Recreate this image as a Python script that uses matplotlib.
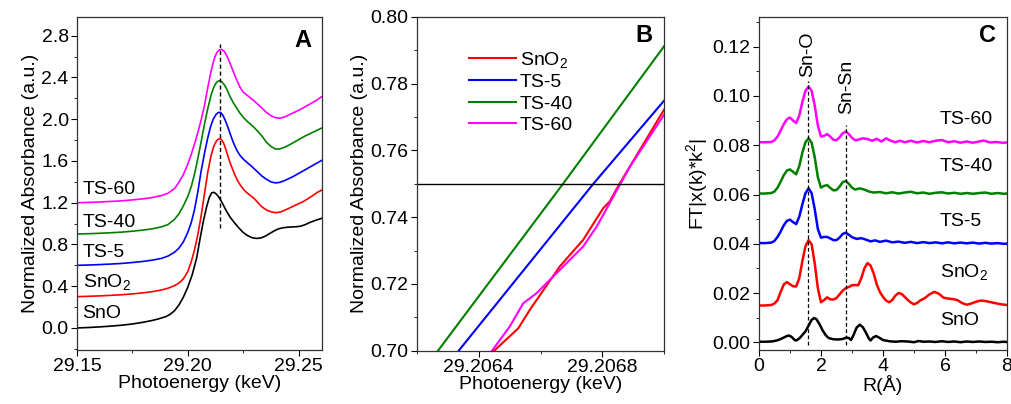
import matplotlib
matplotlib.use('Agg')
import matplotlib.pyplot as plt
from matplotlib.ticker import MultipleLocator, FormatStrFormatter

plt.rcParams['font.family'] = ['Liberation Sans', 'DejaVu Sans']
plt.rcParams['mathtext.fontset'] = 'custom'
plt.rcParams['mathtext.rm'] = 'Liberation Sans'
plt.rcParams['mathtext.default'] = 'regular'

# ---- panel A : XANES (keV, normalized absorbance, stacked)
sno_e = [29.150, 29.155, 29.160, 29.165, 29.170, 29.175, 29.180, 29.184, 29.187, 29.190,
         29.192, 29.194, 29.196, 29.198, 29.200, 29.202, 29.204, 29.2055, 29.207, 29.2085,
         29.2097, 29.2108, 29.2118, 29.2128, 29.2140, 29.2155, 29.2172, 29.2190, 29.2210, 29.2230,
         29.2250, 29.2270, 29.2290, 29.2310, 29.2330, 29.2350, 29.2370, 29.2390, 29.2410, 29.2430,
         29.2450, 29.2470, 29.2490, 29.2510, 29.2530, 29.2550, 29.2575, 29.2604]
sno_a = [0.000, 0.004, 0.010, 0.017, 0.026, 0.038, 0.055, 0.072, 0.088, 0.108,
         0.130, 0.165, 0.220, 0.295, 0.390, 0.510, 0.670, 0.850, 1.020, 1.160,
         1.250, 1.295, 1.300, 1.285, 1.255, 1.200, 1.130, 1.065, 1.010, 0.960,
         0.915, 0.885, 0.865, 0.858, 0.862, 0.880, 0.905, 0.930, 0.950, 0.960,
         0.965, 0.968, 0.970, 0.975, 0.990, 1.010, 1.030, 1.050]

sno2_e = [29.150, 29.155, 29.160, 29.165, 29.170, 29.175, 29.180, 29.184, 29.188, 29.191,
          29.194, 29.196, 29.198, 29.200, 29.2015, 29.203, 29.2045, 29.206, 29.2075, 29.209,
          29.2105, 29.2118, 29.2130, 29.2142, 29.2152, 29.2162, 29.2172, 29.2182, 29.2195, 29.2210,
          29.2225, 29.2240, 29.2255, 29.2270, 29.2285, 29.2300, 29.2315, 29.2330, 29.2345, 29.2360,
          29.2380, 29.2400, 29.2420, 29.2440, 29.2460, 29.2480, 29.2500, 29.2520, 29.2540, 29.2565,
          29.2585, 29.2604]
sno2_a = [0.300, 0.303, 0.307, 0.312, 0.318, 0.326, 0.337, 0.348, 0.363, 0.380,
          0.405, 0.430, 0.470, 0.540, 0.630, 0.745, 0.890, 1.070, 1.280, 1.490,
          1.650, 1.745, 1.795, 1.815, 1.805, 1.770, 1.710, 1.640, 1.560, 1.480,
          1.410, 1.360, 1.320, 1.290, 1.265, 1.240, 1.205, 1.170, 1.145, 1.125,
          1.110, 1.105, 1.112, 1.130, 1.150, 1.170, 1.190, 1.210, 1.235, 1.270,
          1.300, 1.320]

ts5_e = [29.150, 29.155, 29.160, 29.165, 29.170, 29.175, 29.180, 29.184, 29.188, 29.191,
         29.194, 29.196, 29.198, 29.200, 29.2015, 29.203, 29.2045, 29.206, 29.2075, 29.209,
         29.2103, 29.2115, 29.2127, 29.2138, 29.2148, 29.2158, 29.2168, 29.2180, 29.2193, 29.2207,
         29.2222, 29.2237, 29.2252, 29.2268, 29.2285, 29.2300, 29.2318, 29.2335, 29.2355, 29.2375,
         29.2395, 29.2415, 29.2435, 29.2455, 29.2475, 29.2500, 29.2525, 29.2550, 29.2575, 29.2604]
ts5_a = [0.600, 0.603, 0.607, 0.612, 0.618, 0.627, 0.638, 0.650, 0.666, 0.688,
         0.725, 0.765, 0.825, 0.915, 1.005, 1.130, 1.300, 1.500, 1.670, 1.820,
         1.930, 2.000, 2.045, 2.065, 2.065, 2.040, 1.995, 1.930, 1.850, 1.770,
         1.700, 1.650, 1.615, 1.585, 1.555, 1.525, 1.490, 1.455, 1.425, 1.400,
         1.390, 1.395, 1.410, 1.430, 1.450, 1.480, 1.510, 1.540, 1.570, 1.605]

ts40_e = [29.150, 29.155, 29.160, 29.165, 29.170, 29.175, 29.180, 29.184, 29.188, 29.191,
          29.194, 29.196, 29.198, 29.200, 29.2015, 29.203, 29.2045, 29.206, 29.2075, 29.209,
          29.2105, 29.2118, 29.2130, 29.2142, 29.2153, 29.2165, 29.2178, 29.2190, 29.2205, 29.2220,
          29.2235, 29.2250, 29.2268, 29.2285, 29.2300, 29.2318, 29.2338, 29.2355, 29.2375, 29.2395,
          29.2415, 29.2435, 29.2455, 29.2480, 29.2505, 29.2530, 29.2555, 29.2580, 29.2604]
ts40_a = [0.900, 0.903, 0.907, 0.912, 0.918, 0.927, 0.938, 0.950, 0.968, 0.990,
          1.040, 1.095, 1.170, 1.260, 1.350, 1.470, 1.620, 1.780, 1.950, 2.100,
          2.230, 2.310, 2.355, 2.370, 2.360, 2.330, 2.280, 2.220, 2.160, 2.110,
          2.060, 2.020, 1.980, 1.950, 1.920, 1.880, 1.830, 1.780, 1.740, 1.715,
          1.715, 1.730, 1.750, 1.780, 1.810, 1.840, 1.865, 1.890, 1.915]

ts60_e = [29.150, 29.155, 29.160, 29.165, 29.170, 29.175, 29.180, 29.184, 29.188, 29.191,
          29.194, 29.196, 29.198, 29.200, 29.2015, 29.203, 29.2045, 29.206, 29.2075, 29.209,
          29.2105, 29.2118, 29.2130, 29.2142, 29.2153, 29.2165, 29.2178, 29.2190, 29.2205, 29.2220,
          29.2235, 29.2250, 29.2268, 29.2285, 29.2300, 29.2318, 29.2338, 29.2355, 29.2375, 29.2395,
          29.2415, 29.2435, 29.2455, 29.2480, 29.2505, 29.2530, 29.2555, 29.2580, 29.2604]
ts60_a = [1.200, 1.203, 1.207, 1.212, 1.218, 1.227, 1.238, 1.250, 1.268, 1.290,
          1.335, 1.395, 1.470, 1.570, 1.660, 1.760, 1.870, 1.990, 2.130, 2.300,
          2.460, 2.570, 2.635, 2.665, 2.670, 2.650, 2.600, 2.540, 2.460, 2.380,
          2.310, 2.260, 2.230, 2.200, 2.175, 2.140, 2.100, 2.065, 2.035, 2.015,
          2.010, 2.020, 2.040, 2.065, 2.090, 2.120, 2.150, 2.180, 2.215]

labels_a = ['SnO', 'SnO$_2$', 'TS-5', 'TS-40', 'TS-60']
label_a_y = [0.14, 0.44, 0.72, 1.01, 1.33]

# ---- panel B : zoom on the edge at 0.75
sno2_be = [29.20645, 29.206528, 29.206565, 29.206662, 29.206738, 29.206803, 29.206824, 29.206857, 29.2070]
sno2_ba = [0.700, 0.7067, 0.7122, 0.7252, 0.7332, 0.7427, 0.7447, 0.7502, 0.7722]
ts5_be = [29.206335, 29.206771, 29.2070]
ts5_ba = [0.700, 0.750, 0.7749]
ts40_be = [29.206268, 29.206672, 29.2070]
ts40_ba = [0.700, 0.7499, 0.7912]
ts60_be = [29.206443, 29.2065, 29.206544, 29.206587, 29.206673, 29.206738, 29.206782, 29.20683,
           29.206857, 29.20689, 29.2070]
ts60_ba = [0.700, 0.7072, 0.7142, 0.7172, 0.7252, 0.7312, 0.7372, 0.7452, 0.7497, 0.7552, 0.7707]

# ---- panel C : FT of EXAFS
sno_r = [0.0, 0.2, 0.4, 0.5, 0.6, 0.7, 0.8, 0.9, 0.97, 1.05, 1.15, 1.2, 1.3, 1.4, 1.5, 1.6, 1.7,
         1.78, 1.85, 1.95, 2.05, 2.15, 2.25, 2.4, 2.55, 2.7, 2.82, 2.9, 2.97, 3.05, 3.15, 3.25,
         3.35, 3.45, 3.55, 3.6, 3.68, 3.78, 3.9, 4.0, 4.2, 4.4, 4.6, 4.8, 5.0, 5.15, 5.3, 5.5,
         5.7, 5.9, 6.1, 6.3, 6.5, 6.7, 6.9, 7.1, 7.3, 7.5, 7.7, 7.9, 8.0]
sno_ft = [0.0003, 0.0003, 0.0004, 0.0006, 0.0009, 0.0014, 0.0020, 0.0026, 0.0028, 0.0023, 0.0010,
          0.0008, 0.0016, 0.0030, 0.0045, 0.0068, 0.0092, 0.0099, 0.0095, 0.0075, 0.0050, 0.0030,
          0.0018, 0.0013, 0.0012, 0.0014, 0.0020, 0.0018, 0.0010, 0.0030, 0.0060, 0.0072, 0.0062,
          0.0040, 0.0015, 0.0008, 0.0020, 0.0026, 0.0018, 0.0010, 0.0005, 0.0003, 0.0005, 0.0004,
          0.0001, 0.0006, 0.0003, 0.0004, 0.0002, 0.0005, 0.0002, 0.0004, 0.0001, 0.0004, 0.0002,
          0.0004, 0.0002, 0.0003, 0.0001, 0.0003, 0.0002]

sno2_r = [0.0, 0.2, 0.4, 0.5, 0.6, 0.7, 0.8, 0.9, 1.0, 1.1, 1.2, 1.3, 1.4, 1.5, 1.6, 1.7, 1.8,
          1.9, 2.0, 2.1, 2.2, 2.3, 2.4, 2.5, 2.6, 2.7, 2.8, 2.9, 3.0, 3.1, 3.2, 3.3, 3.4, 3.5,
          3.6, 3.7, 3.8, 3.9, 4.0, 4.1, 4.2, 4.3, 4.4, 4.5, 4.6, 4.7, 4.8, 4.9, 5.0, 5.1, 5.2,
          5.35, 5.5, 5.65, 5.8, 5.95, 6.1, 6.25, 6.4, 6.55, 6.7, 6.85, 7.0, 7.15, 7.3, 7.45,
          7.6, 7.8, 8.0]
sno2_ft = [0.0150, 0.0150, 0.0152, 0.0158, 0.0172, 0.0205, 0.0235, 0.0245, 0.0236, 0.0228, 0.0227,
           0.0260, 0.0330, 0.0390, 0.0415, 0.0398, 0.0320, 0.0220, 0.0163, 0.0172, 0.0183, 0.0175,
           0.0174, 0.0180, 0.0195, 0.0210, 0.0220, 0.0225, 0.0232, 0.0233, 0.0232, 0.0260, 0.0300,
           0.0322, 0.0312, 0.0280, 0.0235, 0.0205, 0.0185, 0.0170, 0.0163, 0.0172, 0.0190, 0.0200,
           0.0197, 0.0185, 0.0172, 0.0162, 0.0155, 0.0160, 0.0170, 0.0180, 0.0195, 0.0205, 0.0198,
           0.0182, 0.0178, 0.0176, 0.0172, 0.0160, 0.0153, 0.0158, 0.0165, 0.0170, 0.0168, 0.0164,
           0.0160, 0.0155, 0.0152]

ts5_r = [0.0, 0.2, 0.4, 0.5, 0.6, 0.7, 0.8, 0.9, 1.0, 1.1, 1.2, 1.3, 1.4, 1.5, 1.6, 1.7, 1.8,
         1.9, 2.0, 2.1, 2.2, 2.3, 2.4, 2.5, 2.6, 2.7, 2.8, 2.9, 3.0, 3.15, 3.3, 3.45, 3.6, 3.75,
         3.9, 4.1, 4.3, 4.5, 4.7, 4.9, 5.1, 5.3, 5.5, 5.7, 5.9, 6.1, 6.3, 6.5, 6.7, 6.9, 7.1,
         7.3, 7.5, 7.7, 7.9, 8.0]
ts5_ft = [0.0403, 0.0403, 0.0405, 0.0412, 0.0428, 0.0450, 0.0475, 0.0493, 0.0498, 0.0488, 0.0480,
          0.0510, 0.0560, 0.0605, 0.0625, 0.0605, 0.0540, 0.0460, 0.0425, 0.0428, 0.0428, 0.0422,
          0.0415, 0.0415, 0.0425, 0.0440, 0.0445, 0.0437, 0.0427, 0.0420, 0.0423, 0.0417, 0.0410,
          0.0414, 0.0408, 0.0413, 0.0406, 0.0409, 0.0404, 0.0408, 0.0403, 0.0407, 0.0403, 0.0406,
          0.0402, 0.0406, 0.0402, 0.0405, 0.0402, 0.0405, 0.0401, 0.0404, 0.0401, 0.0403, 0.0400,
          0.0401]

ts40_r = [0.0, 0.2, 0.4, 0.5, 0.6, 0.7, 0.8, 0.9, 1.0, 1.1, 1.2, 1.3, 1.4, 1.5, 1.6, 1.7, 1.8,
          1.9, 2.0, 2.1, 2.2, 2.3, 2.4, 2.5, 2.6, 2.7, 2.8, 2.9, 3.0, 3.1, 3.25, 3.4, 3.55, 3.7,
          3.9, 4.1, 4.3, 4.5, 4.7, 4.9, 5.1, 5.3, 5.5, 5.7, 5.9, 6.1, 6.3, 6.5, 6.7, 6.9, 7.1,
          7.3, 7.5, 7.7, 7.9, 8.0]
ts40_ft = [0.0604, 0.0604, 0.0606, 0.0612, 0.0628, 0.0652, 0.0678, 0.0697, 0.0702, 0.0692, 0.0682,
           0.0715, 0.0770, 0.0812, 0.0828, 0.0810, 0.0750, 0.0670, 0.0628, 0.0635, 0.0638, 0.0627,
           0.0617, 0.0618, 0.0632, 0.0650, 0.0655, 0.0643, 0.0628, 0.0620, 0.0625, 0.0620, 0.0612,
           0.0608, 0.0610, 0.0605, 0.0609, 0.0604, 0.0608, 0.0611, 0.0605, 0.0608, 0.0603, 0.0607,
           0.0609, 0.0604, 0.0607, 0.0603, 0.0606, 0.0603, 0.0606, 0.0608, 0.0603, 0.0606, 0.0603,
           0.0604]

ts60_r = [0.0, 0.2, 0.4, 0.5, 0.6, 0.7, 0.8, 0.9, 1.0, 1.1, 1.2, 1.3, 1.4, 1.5, 1.6, 1.7, 1.8,
          1.9, 2.0, 2.1, 2.2, 2.3, 2.4, 2.5, 2.6, 2.7, 2.8, 2.9, 3.0, 3.1, 3.2, 3.35, 3.5, 3.65,
          3.8, 3.95, 4.1, 4.25, 4.4, 4.55, 4.7, 4.9, 5.1, 5.3, 5.5, 5.7, 5.9, 6.1, 6.3, 6.5,
          6.7, 6.9, 7.1, 7.25, 7.45, 7.65, 7.85, 8.0]
ts60_ft = [0.0812, 0.0812, 0.0813, 0.0820, 0.0835, 0.0860, 0.0885, 0.0905, 0.0912, 0.0900, 0.0890,
           0.0920, 0.0975, 0.1020, 0.1038, 0.1020, 0.0960, 0.0880, 0.0835, 0.0838, 0.0845, 0.0835,
           0.0822, 0.0820, 0.0832, 0.0848, 0.0855, 0.0845, 0.0830, 0.0820, 0.0822, 0.0828, 0.0825,
           0.0818, 0.0826, 0.0815, 0.0828, 0.0818, 0.0812, 0.0818, 0.0812, 0.0818, 0.0811, 0.0817,
           0.0812, 0.0818, 0.0821, 0.0812, 0.0816, 0.0810, 0.0815, 0.0810, 0.0815, 0.0819, 0.0811,
           0.0813, 0.0810, 0.0811]

labels_c = ['SnO', 'SnO$_2$', 'TS-5', 'TS-40', 'TS-60']
label_c_y = [0.0088, 0.0285, 0.049, 0.0712, 0.0906]

colors = ['black', '#ff0000', '#0000ff', '#008000', '#ff00ff']
fs = 14

fig = plt.figure(figsize=(10.11, 4.04), dpi=100)
axA = fig.add_axes([0.0762, 0.134, 0.2423, 0.824])
axB = fig.add_axes([0.4125, 0.132, 0.2443, 0.826])
axC = fig.add_axes([0.7507, 0.134, 0.2453, 0.824])

for ax in (axA, axB, axC):
    ax.tick_params(which='both', direction='out', labelsize=fs, top=False, right=False, pad=2)
    ax.tick_params(which='major', length=4)
    ax.tick_params(which='minor', length=2.5)
    for s in ax.spines.values():
        s.set_linewidth(0.9)
        s.set_color('#333333')

# A
for e, a, c in zip([sno_e, sno2_e, ts5_e, ts40_e, ts60_e],
                   [sno_a, sno2_a, ts5_a, ts40_a, ts60_a], colors):
    axA.plot(e, a, color=c, lw=1.2)
axA.plot([29.2144, 29.2144], [0.96, 2.72], 'k--', lw=1, dashes=(3, 2))
for t, y in zip(labels_a, label_a_y):
    axA.text(29.1525, y, t, fontsize=fs, va='center', ha='left')
axA.set_xlim(29.15, 29.2606)
axA.set_ylim(-0.21, 2.98)
axA.xaxis.set_major_locator(MultipleLocator(0.05))
axA.xaxis.set_minor_locator(MultipleLocator(0.025))
axA.xaxis.set_major_formatter(FormatStrFormatter('%.2f'))
axA.yaxis.set_major_locator(MultipleLocator(0.4))
axA.yaxis.set_minor_locator(MultipleLocator(0.2))
axA.yaxis.set_major_formatter(FormatStrFormatter('%.1f'))
axA.set_xlabel('Photoenergy (keV)', fontsize=fs, labelpad=0)
axA.set_ylabel('Normalized Absorbance (a.u.)', fontsize=fs, labelpad=2)
axA.text(0.92, 0.93, 'A', transform=axA.transAxes, fontsize=17, fontweight='bold',
         ha='center', va='center')

# B
names_b = ['SnO$_2$', 'TS-5', 'TS-40', 'TS-60']
for e, a, c, n in zip([sno2_be, ts5_be, ts40_be, ts60_be],
                      [sno2_ba, ts5_ba, ts40_ba, ts60_ba], colors[1:], names_b):
    axB.plot(e, a, color=c, lw=1.5, label=n)
axB.axhline(0.75, color='black', lw=1)
axB.set_xlim(29.2062, 29.2070)
axB.set_ylim(0.70, 0.80)
axB.xaxis.set_major_locator(MultipleLocator(0.0004))
axB.xaxis.set_minor_locator(MultipleLocator(0.0002))
axB.xaxis.set_major_formatter(FormatStrFormatter('%.4f'))
axB.yaxis.set_major_locator(MultipleLocator(0.02))
axB.yaxis.set_minor_locator(MultipleLocator(0.01))
axB.yaxis.set_major_formatter(FormatStrFormatter('%.2f'))
axB.set_xlabel('Photoenergy (keV)', fontsize=fs, labelpad=0)
axB.set_ylabel('Normalized Absorbance (a.u.)', fontsize=fs, labelpad=2)
axB.legend(loc='upper left', bbox_to_anchor=(0.18, 0.925), frameon=False, fontsize=fs,
           handlelength=2.4, handletextpad=0.2, labelspacing=0.2, borderaxespad=0)
axB.text(0.92, 0.945, 'B', transform=axB.transAxes, fontsize=17, fontweight='bold',
         ha='center', va='center')

# C
for r, f, c in zip([sno_r, sno2_r, ts5_r, ts40_r, ts60_r],
                   [sno_ft, sno2_ft, ts5_ft, ts40_ft, ts60_ft], colors):
    axC.plot(r, f, color=c, lw=1.8)
axC.plot([1.58, 1.58], [-0.001, 0.106], 'k--', lw=0.9, dashes=(3, 2))
axC.plot([2.82, 2.82], [-0.001, 0.088], 'k--', lw=0.9, dashes=(3, 2))
axC.text(1.58, 0.117, 'Sn-O', rotation=90, fontsize=fs, ha='center', va='center')
axC.text(2.82, 0.1035, 'Sn-Sn', rotation=90, fontsize=fs, ha='center', va='center')
for t, y in zip(labels_c, label_c_y):
    axC.text(5.84, y, t, fontsize=fs, va='center', ha='left')
axC.set_xlim(0, 8)
axC.set_ylim(-0.003, 0.132)
axC.xaxis.set_major_locator(MultipleLocator(2))
axC.xaxis.set_minor_locator(MultipleLocator(1))
axC.yaxis.set_major_locator(MultipleLocator(0.02))
axC.yaxis.set_minor_locator(MultipleLocator(0.01))
axC.yaxis.set_major_formatter(FormatStrFormatter('%.2f'))
axC.set_xlabel('R(Å)', fontsize=fs, labelpad=0)
axC.set_ylabel('FT|x(k)*k$^2$|', fontsize=fs, labelpad=2)
axC.text(0.92, 0.945, 'C', transform=axC.transAxes, fontsize=17, fontweight='bold',
         ha='center', va='center')

fig.savefig('out.png', dpi=100)
